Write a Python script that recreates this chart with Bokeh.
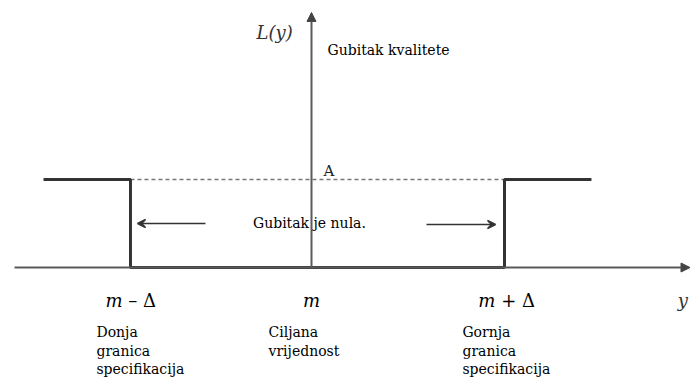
from bokeh.plotting import figure
from bokeh.models import Range1d, Arrow, NormalHead, VeeHead
from bokeh.core.properties import value
from bokeh.embed import file_html
from bokeh.resources import INLINE

# ---- data (conceptual units: m = 0, Delta ~ 1, A = 1) ----
loss_x = [-1.433, -0.968, -0.968, 1.032, 1.032, 1.497]
loss_y = [1.0, 1.0, 0.0, 0.0, 1.0, 1.0]
level_A = 1.0
spec_low, spec_high = -0.968, 1.032
tick_pos = [-0.949, 0.0, 1.053]
tick_main = ["m", "m", "m"]
tick_suffix = ["\u00a0\u2013\u00a0\u0394", "", "\u00a0+\u00a0\u0394"]
desc_x = [-1.150, -0.230, 0.807]
desc_row1 = ["Donja", "Ciljana", "Gornja"]
desc_row2 = ["granica", "vrijednost", "granica"]
desc_row3 = ["specifikacija", "", "specifikacija"]

SERIF = value("DejaVu Serif")

p = figure(width=691, height=378, output_backend="svg", toolbar_location=None,
           x_range=Range1d(-1.663, 2.032), y_range=Range1d(-1.261, 3.034),
           min_border=0)
p.axis.visible = False
p.grid.visible = False
p.outline_line_color = None

# axes with arrow heads
p.add_layout(Arrow(end=NormalHead(size=9, fill_color="#444444", line_color="#444444"),
                   x_start=-1.588, y_start=0, x_end=2.024, y_end=0,
                   line_color="#5a5a5a", line_width=2))
p.add_layout(Arrow(end=NormalHead(size=9, fill_color="#444444", line_color="#444444"),
                   x_start=0, y_start=0, x_end=0, y_end=2.898,
                   line_color="#5a5a5a", line_width=2))

# dashed target level
p.line([spec_low, spec_high], [level_A, level_A], line_color="#777777", line_width=1.5,
       line_dash="4 3")

# loss function
p.line(loss_x, loss_y, line_color="#333333", line_width=3)

# "loss is zero" arrows
p.add_layout(Arrow(end=VeeHead(size=8, line_color="#333333", line_width=1.5, fill_color="#333333"),
                   x_start=-0.567, y_start=0.5, x_end=-0.930, y_end=0.5,
                   line_color="#333333", line_width=1.5))
p.add_layout(Arrow(end=VeeHead(size=8, line_color="#333333", line_width=1.5, fill_color="#333333"),
                   x_start=0.615, y_start=0.489, x_end=0.984, y_end=0.489,
                   line_color="#333333", line_width=1.5))

p.text(x=[-0.011], y=[0.511], text=["Gubitak je nula."], text_font=SERIF,
       text_font_size="14px", text_align="center", text_baseline="middle",
       text_color="#000000")
p.text(x=[0.064], y=[1.10], text=["A"], text_font=SERIF, text_font_size="15px",
       text_align="left", text_baseline="middle", text_color="#222222")
p.text(x=[-0.294], y=[2.67], text=["L(y)"], text_font=SERIF, text_font_style="italic",
       text_font_size="18px", text_align="left", text_baseline="middle", text_color="#333333")
p.text(x=[0.0856], y=[2.466], text=["Gubitak kvalitete"], text_font=SERIF,
       text_font_size="14px", text_align="left", text_baseline="middle", text_color="#000000")

# tick labels: italic m, upright operator and Delta
m_off = [-11.5, 8.5, -13.0]
p.text(x=tick_pos, y=[-0.375] * 3, text=tick_main, x_offset=m_off, text_font=SERIF,
       text_font_style="italic", text_font_size="18px", text_align="right",
       text_baseline="middle", text_color="#000000")
p.text(x=tick_pos, y=[-0.375] * 3, text=tick_suffix, x_offset=m_off, text_font=SERIF,
       text_font_size="18px", text_align="left",
       text_baseline="middle", text_color="#000000")

# descriptions
for row, yy in ((desc_row1, -0.727), (desc_row2, -0.943), (desc_row3, -1.148)):
    p.text(x=desc_x, y=[yy] * 3, text=row, text_font=SERIF, text_font_size="14px",
           text_align="left", text_baseline="middle", text_color="#000000")

p.text(x=[1.985], y=[-0.375], text=["y"], text_font=SERIF, text_font_style="italic",
       text_font_size="18px", text_align="center", text_baseline="middle", text_color="#333333")

open("out.html", "w").write(file_html(p, INLINE))
